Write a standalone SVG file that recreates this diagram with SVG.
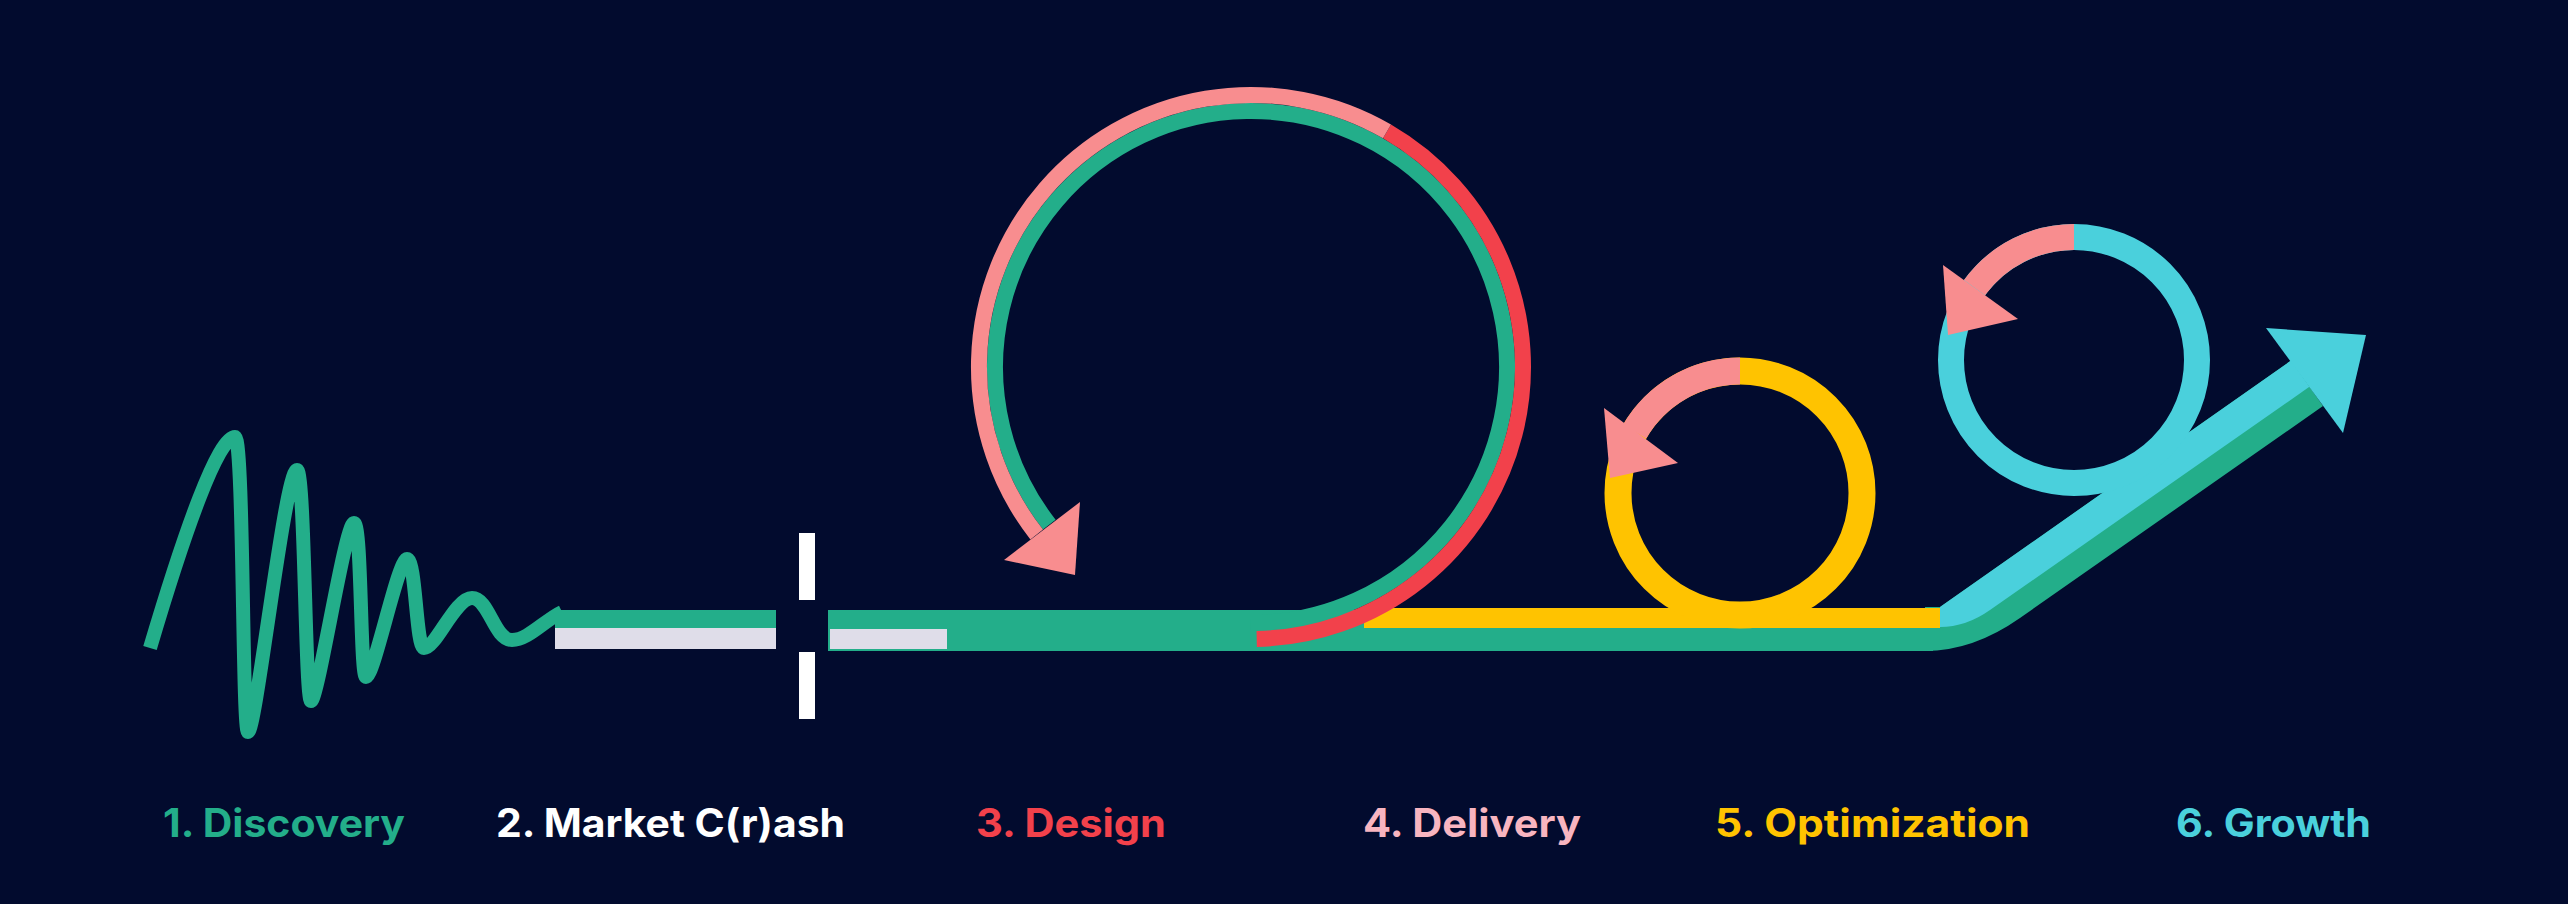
<svg xmlns="http://www.w3.org/2000/svg" width="2568" height="904" viewBox="0 0 2568 904">
<style>
.g{fill:#23AE8A}
.gs{fill:none;stroke:#23AE8A}
.w{fill:#DFDDE9}
.sep{fill:#FFFFFF}
.y{fill:#FFC300}
.ys{fill:none;stroke:#FFC300;stroke-width:27}
.c{fill:#4AD0DC}
.cs{fill:none;stroke:#4AD0DC;stroke-width:26}
.p{fill:#F88D8F}
.ps{fill:none;stroke:#F88D8F}
.rs{fill:none;stroke:#F2414B}
.lbl{font-family:Inter,'Noto Sans',sans-serif;font-size:39px;font-weight:700}
</style>
<rect x="0" y="0" width="2568" height="904" fill="#020B2E"/>

<g id="discovery">
<path class="gs" stroke-width="14" d="M150,648 C185,530 218,437 235,437 C244,437 242,732 248,732 C256,732 285,470 297,470 C305,470 305,701 311,701 C318,701 345,523 354,523 C362,523 360,677 366,677 C374,677 398,559 407,559 C416,559 416,648 424,648 C436,648 455,598 472,598 C489,598 494,640 512,640 C528,640 545,620 562,612"/>
</g>

<g id="market-crash">
<rect class="g" x="555" y="610" width="221" height="18"/>
<rect class="w" x="555" y="628" width="221" height="21"/>
<rect class="sep" x="799" y="533" width="16" height="67"/>
<rect class="sep" x="799" y="652" width="16" height="67"/>
</g>

<g id="main-track">
<rect class="g" x="828" y="610" width="1105" height="41"/>
<rect class="w" x="830" y="629" width="117" height="20"/>
<path class="g" d="M1925,651 Q1973,651 2020,618 L2323,406 L2291,360.6 L1940,607 L1925,607 Z"/>
</g>

<g id="design-loop-track">
<path class="gs" stroke-width="16" d="M1049.3,524.6 A256,256 0 1 1 1251,623"/>
</g>

<g id="optimization">
<rect class="y" x="1364" y="608" width="576" height="20"/>
<circle class="ys" cx="1740" cy="493" r="122"/>
<path class="ps" stroke-width="27" d="M1740,371 A122,122 0 0 0 1634.6,431.6"/>
<polygon class="p" points="1604,408 1678,463 1610,478"/>
</g>

<g id="design">
<path class="rs" stroke-width="16" d="M1387,131.4 A272,272 0 0 1 1256.7,638.9"/>
</g>

<g id="delivery">
<path class="ps" stroke-width="16" d="M1036.7,534.5 A272,272 0 0 1 1387,131.4"/>
<polygon class="p" points="1004,560 1080,502 1075,575"/>
</g>

<g id="growth">
<path class="c" d="M1940,607 L2291,360.6 L2309.4,386.8 L1990,610 Q1966,627 1940,627 Z"/>
<polygon class="c" points="2266,328 2366,335 2343,433"/>
<circle class="cs" cx="2074" cy="360" r="123"/>
<path class="ps" stroke-width="26" d="M2074,237 A123,123 0 0 0 1974.5,287.7"/>
<polygon class="p" points="1943,265 2018,319 1948,335"/>
</g>

<g id="labels">
<text class="lbl" x="163" y="837" fill="#23AE8A" textLength="242" lengthAdjust="spacingAndGlyphs">1. Discovery</text>
<text class="lbl" x="496" y="837" fill="#FFFFFF" textLength="349" lengthAdjust="spacingAndGlyphs">2. Market C(r)ash</text>
<text class="lbl" x="976" y="837" fill="#F2414B" textLength="190" lengthAdjust="spacingAndGlyphs">3. Design</text>
<text class="lbl" x="1363" y="837" fill="#F8B5C0" textLength="218" lengthAdjust="spacingAndGlyphs">4. Delivery</text>
<text class="lbl" x="1715" y="837" fill="#FFC300" textLength="315" lengthAdjust="spacingAndGlyphs">5. Optimization</text>
<text class="lbl" x="2176" y="837" fill="#4AD0DC" textLength="195" lengthAdjust="spacingAndGlyphs">6. Growth</text>
</g>
</svg>
